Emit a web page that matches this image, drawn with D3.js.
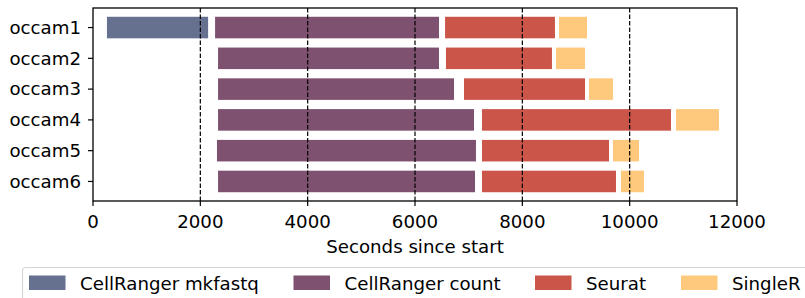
<!DOCTYPE html>
<html>
<head>
<meta charset="utf-8">
<script src="https://cdn.jsdelivr.net/npm/d3@7"></script>
<style>
  body { margin: 0; background: #fff; }
  svg { display: block; font-family: "DejaVu Sans", sans-serif; }
</style>
</head>
<body>
<div id="chart"></div>
<script>
const machines = ['occam1', 'occam2', 'occam3', 'occam4', 'occam5', 'occam6'];
const steps = ['CellRanger mkfastq', 'CellRanger count', 'Seurat', 'SingleR'];
const colors = ['#65718f', '#7e5170', '#cc554a', '#fec97d'];

// [start, end] in seconds since start, per step, per machine (null = step not run)
const mkfastqTimes = [[260, 2145], null, null, null, null, null];
const countTimes = [[2275, 6447], [2330, 6447], [2330, 6727], [2330, 7099], [2310, 7136], [2330, 7118]];
const seuratTimes = [[6560, 8608], [6577, 8552], [6913, 9168], [7248, 10770], [7248, 9615], [7248, 9745]];
const singleRTimes = [[8683, 9205], [8627, 9168], [9242, 9689], [10863, 11664], [9689, 10174], [9838, 10267]];
const xTicks = [0, 2000, 4000, 6000, 8000, 10000, 12000];
const gridTicks = [2000, 4000, 6000, 8000, 10000];

const margin = { top: 8, right: 68, bottom: 97, left: 93 };
const width = 805 - margin.left - margin.right;
const height = 298 - margin.top - margin.bottom;
const fontSize = '18.2px';

const svg = d3.select('#chart').append('svg')
  .attr('width', 805)
  .attr('height', 298);

const g = svg.append('g')
  .attr('transform', `translate(${margin.left}, ${margin.top})`);

const x = d3.scaleLinear().domain([0, 12000]).range([0, width]);
// matplotlib style barh: bars at 0..n-1, height 0.7, 5% margins
const y = d3.scaleLinear().domain([-0.635, 5.635]).range([0, height]);
const barH = 0.7;

const series = [mkfastqTimes, countTimes, seuratTimes, singleRTimes];
const bars = [];
series.forEach((times, s) => {
  times.forEach((t, i) => {
    if (t) bars.push({ machine: i, step: s, start: t[0], end: t[1] });
  });
});

g.selectAll('rect.bar')
  .data(bars)
  .enter()
  .append('rect')
  .attr('class', 'bar')
  .attr('x', d => x(d.start))
  .attr('width', d => x(d.end) - x(d.start))
  .attr('y', d => y(d.machine - barH / 2))
  .attr('height', d => y(d.machine + barH / 2) - y(d.machine - barH / 2))
  .style('fill', d => colors[d.step]);

// dashed vertical lines on top of bars
g.selectAll('line.grid')
  .data(gridTicks)
  .enter()
  .append('line')
  .attr('class', 'grid')
  .attr('x1', d => x(d))
  .attr('x2', d => x(d))
  .attr('y1', 0)
  .attr('y2', height)
  .attr('stroke', '#000')
  .attr('stroke-width', 1.2)
  .attr('stroke-dasharray', '4.5,2');

// frame
g.append('rect')
  .attr('width', width)
  .attr('height', height)
  .attr('fill', 'none')
  .attr('stroke', '#000')
  .attr('stroke-width', 1.3);

// x ticks
const xt = g.selectAll('g.xtick')
  .data(xTicks)
  .enter()
  .append('g')
  .attr('transform', d => `translate(${x(d)}, ${height})`);
xt.append('line').attr('y2', 5).attr('stroke', '#000').attr('stroke-width', 1.2);
xt.append('text')
  .attr('y', 26.5)
  .attr('text-anchor', 'middle')
  .style('font-size', fontSize)
  .style('fill', '#000')
  .text(d => d);

// y ticks
const yt = g.selectAll('g.ytick')
  .data(machines)
  .enter()
  .append('g')
  .attr('transform', (d, i) => `translate(0, ${y(i)})`);
yt.append('line').attr('x2', -5).attr('stroke', '#000').attr('stroke-width', 1.2);
yt.append('text')
  .attr('x', -12)
  .attr('dy', '0.35em')
  .attr('text-anchor', 'end')
  .style('font-size', fontSize)
  .style('fill', '#000')
  .text(d => d);

g.append('text')
  .attr('x', width / 2)
  .attr('y', height + 52)
  .attr('text-anchor', 'middle')
  .style('font-size', fontSize)
  .style('fill', '#000')
  .text('Seconds since start');

// legend (runs off the right edge, as in the original)
const legend = svg.append('g').attr('transform', 'translate(22.5, 267.5)');
legend.append('rect')
  .attr('width', 820)
  .attr('height', 60)
  .attr('rx', 3)
  .attr('fill', '#fff')
  .attr('stroke', '#d6d6d6')
  .attr('stroke-width', 1.2);

const legendX = [6.5, 271, 512.5, 658.5];
const items = legend.selectAll('g.item')
  .data(steps)
  .enter()
  .append('g')
  .attr('transform', (d, i) => `translate(${legendX[i]}, 8)`);
items.append('rect')
  .attr('width', 36.5)
  .attr('height', 14.5)
  .style('fill', (d, i) => colors[i]);
items.append('text')
  .attr('x', 51)
  .attr('y', 14)
  .style('font-size', fontSize)
  .style('fill', '#000')
  .text(d => d);
</script>
</body>
</html>
